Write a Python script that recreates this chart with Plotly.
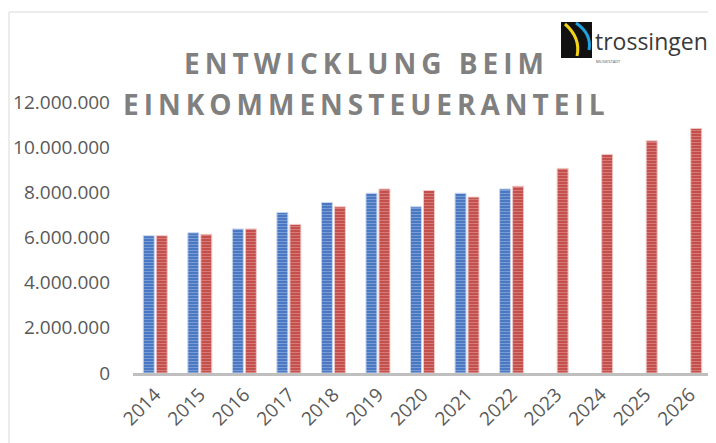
import plotly.graph_objects as go

# ---- data ----
years = ["2014", "2015", "2016", "2017", "2018", "2019", "2020",
         "2021", "2022", "2023", "2024", "2025", "2026"]
ist = [6080000, 6210000, 6380000, 7110000, 7550000, 7960000, 7360000,
       7960000, 8150000, None, None, None, None]
plan = [6080000, 6140000, 6380000, 6580000, 7360000, 8150000, 8080000,
        7790000, 8270000, 9060000, 9680000, 10280000, 10830000]
y_ticks = [0, 2000000, 4000000, 6000000, 8000000, 10000000, 12000000]
title_line1 = "ENTWICKLUNG BEIM"
title_line2 = "EINKOMMENSTEUERANTEIL"

OFF = 8  # default body margin of the html page
W, H = 716 - OFF, 443 - OFF
L, R, T, B = 133 - OFF, 4, 102 - OFF, 70
pw = W - L - R
ph = H - T - B


def px(x):  # page pixel -> paper
    return (x - OFF - L) / pw


def py(y):
    return (H - B - (y - OFF)) / ph


fig = go.Figure()
fig.add_trace(go.Bar(
    x=years, y=ist, name="Ist",
    marker=dict(color="#4a78c2",
                line=dict(color="#c8d6ee", width=1),
                pattern=dict(shape="-", fillmode="overlay", bgcolor="#4a78c2",
                             fgcolor="#a9c0e8", size=3, solidity=0.35)),
))
fig.add_trace(go.Bar(
    x=years, y=plan, name="Plan",
    marker=dict(color="#c4504e",
                line=dict(color="#efc9c8", width=1),
                pattern=dict(shape="-", fillmode="overlay", bgcolor="#c4504e",
                             fgcolor="#e8a4a2", size=3, solidity=0.35)),
))

tick_font = dict(family="Open Sans, sans-serif", size=19, color="#595959")

fig.update_layout(
    width=W, height=H,
    margin=dict(l=L, r=R, t=T, b=B, pad=0),
    paper_bgcolor="white", plot_bgcolor="white",
    barmode="group", bargap=0.416, bargroupgap=0.154,
    showlegend=False,
    separators=",.",
    xaxis=dict(type="category", showgrid=False, showline=True,
               linecolor="#bfbfbf", linewidth=3, ticks="",
               tickangle=-45, tickfont=tick_font, zeroline=False),
    yaxis=dict(range=[0, 12000000], tickvals=y_ticks, tickformat=",d",
               showgrid=False, showline=False, zeroline=False,
               tickfont=tick_font, ticks="", ticklabelstandoff=22),
)

title_font = dict(family="Open Sans, sans-serif", size=28, color="#808080")
for txt, yc in [(title_line1, 63), (title_line2, 103.5)]:
    fig.add_annotation(
        x=px(366), y=py(yc), xref="paper", yref="paper",
        text=f'<span style="letter-spacing:5px;font-weight:bold">{txt}</span>',
        showarrow=False, font=title_font, xanchor="center", yanchor="middle")

# outer border
fig.add_shape(type="rect", xref="paper", yref="paper",
              x0=px(9), x1=px(740), y0=py(470), y1=py(12),
              line=dict(color="#d9d9d9", width=1), fillcolor="rgba(0,0,0,0)",
              layer="below")

# logo
fig.add_shape(type="rect", xref="paper", yref="paper",
              x0=px(561), x1=px(592), y0=py(58), y1=py(22),
              line=dict(width=0), fillcolor="#111111")


def path(points):
    s = f"M {px(points[0][0])},{py(points[0][1])}"
    for i in range(1, len(points) - 1, 2):
        (cx, cy), (ex, ey) = points[i], points[i + 1]
        s += f" Q {px(cx)},{py(cy)} {px(ex)},{py(ey)}"
    return s


fig.add_shape(type="path", xref="paper", yref="paper",
              path=path([(565, 24), (581, 38), (577, 56)]),
              line=dict(color="#f2d21b", width=3))
fig.add_shape(type="path", xref="paper", yref="paper",
              path=path([(576, 23), (592, 34), (589, 50)]),
              line=dict(color="#1ea3e0", width=3))
fig.add_annotation(x=px(593), y=py(41), xref="paper", yref="paper",
                   text="trossingen", showarrow=False,
                   font=dict(family="Open Sans, sans-serif", size=23, color="#3a3a3a"),
                   xanchor="left", yanchor="middle")
fig.add_annotation(x=px(594), y=py(61), xref="paper", yref="paper",
                   text="MUSIKSTADT", showarrow=False,
                   font=dict(family="Open Sans, sans-serif", size=4, color="#555555"),
                   xanchor="left", yanchor="middle")

fig.write_html("out.html")
